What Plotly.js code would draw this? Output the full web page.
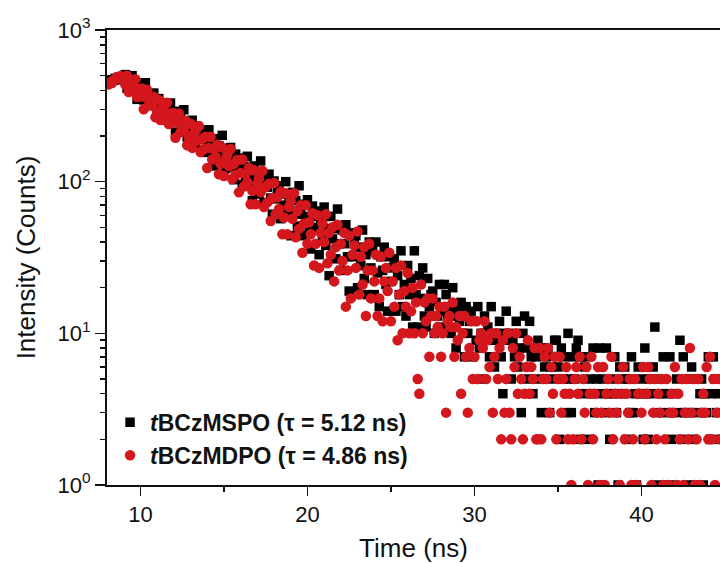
<!DOCTYPE html>
<html>
<head>
<meta charset="utf-8">
<script src="https://cdn.plot.ly/plotly-3.0.1.min.js"></script>
<style>html,body{margin:0;padding:0;background:#fff;}#chart{width:720px;height:563px;}</style>
</head>
<body>
<div id="chart"></div>
<script>
// Time channels (ns)
var time = [
8.1,8.2,8.3,8.4,8.5,8.6,8.7,8.8,8.9,9.0,
9.1,9.2,9.3,9.4,9.5,9.6,9.7,9.8,9.9,10.0,
10.1,10.2,10.3,10.4,10.5,10.6,10.7,10.8,10.9,11.0,
11.1,11.2,11.3,11.4,11.5,11.6,11.7,11.8,11.9,12.0,
12.1,12.2,12.3,12.4,12.5,12.6,12.7,12.8,12.9,13.0,
13.1,13.2,13.3,13.4,13.5,13.6,13.7,13.8,13.9,14.0,
14.1,14.2,14.3,14.4,14.5,14.6,14.7,14.8,14.9,15.0,
15.1,15.2,15.3,15.4,15.5,15.6,15.7,15.8,15.9,16.0,
16.1,16.2,16.3,16.4,16.5,16.6,16.7,16.8,16.9,17.0,
17.1,17.2,17.3,17.4,17.5,17.6,17.7,17.8,17.9,18.0,
18.1,18.2,18.3,18.4,18.5,18.6,18.7,18.8,18.9,19.0,
19.1,19.2,19.3,19.4,19.5,19.6,19.7,19.8,19.9,20.0,
20.1,20.2,20.3,20.4,20.5,20.6,20.7,20.8,20.9,21.0,
21.1,21.2,21.3,21.4,21.5,21.6,21.7,21.8,21.9,22.0,
22.1,22.2,22.3,22.4,22.5,22.6,22.7,22.8,22.9,23.0,
23.1,23.2,23.3,23.4,23.5,23.6,23.7,23.8,23.9,24.0,
24.1,24.2,24.3,24.4,24.5,24.6,24.7,24.8,24.9,25.0,
25.1,25.2,25.3,25.4,25.5,25.6,25.7,25.8,25.9,26.0,
26.1,26.2,26.3,26.4,26.5,26.6,26.7,26.8,26.9,27.0,
27.1,27.2,27.3,27.4,27.5,27.6,27.7,27.8,27.9,28.0,
28.1,28.2,28.3,28.4,28.5,28.6,28.7,28.8,28.9,29.0,
29.1,29.2,29.3,29.4,29.5,29.6,29.7,29.8,29.9,30.0,
30.1,30.2,30.3,30.4,30.5,30.6,30.7,30.8,30.9,31.0,
31.1,31.2,31.3,31.4,31.5,31.6,31.7,31.8,31.9,32.0,
32.1,32.2,32.3,32.4,32.5,32.6,32.7,32.8,32.9,33.0,
33.1,33.2,33.3,33.4,33.5,33.6,33.7,33.8,33.9,34.0,
34.1,34.2,34.3,34.4,34.5,34.6,34.7,34.8,34.9,35.0,
35.1,35.2,35.3,35.4,35.5,35.6,35.7,35.8,35.9,36.0,
36.1,36.2,36.3,36.4,36.5,36.6,36.7,36.8,36.9,37.0,
37.1,37.2,37.3,37.4,37.5,37.6,37.7,37.8,37.9,38.0,
38.1,38.2,38.3,38.4,38.5,38.6,38.7,38.8,38.9,39.0,
39.1,39.2,39.3,39.4,39.5,39.6,39.7,39.8,39.9,40.0,
40.1,40.2,40.3,40.4,40.5,40.6,40.7,40.8,40.9,41.0,
41.1,41.2,41.3,41.4,41.5,41.6,41.7,41.8,41.9,42.0,
42.1,42.2,42.3,42.4,42.5,42.6,42.7,42.8,42.9,43.0,
43.1,43.2,43.3,43.4,43.5,43.6,43.7,43.8,43.9,44.0,
44.1,44.2,44.3,44.4,44.5,44.6,44.7
];

// tBCzMSPO counts
var countsMSPO = [
462,455,471,466,480,474,488,479,470,485,
508,413,468,431,500,400,425,349,445,389,
410,346,449,364,319,376,347,384,316,277,
353,305,323,331,255,301,272,330,251,274,
212,291,248,265,217,298,231,197,244,222,
254,200,170,232,194,210,216,156,195,173,
220,158,175,127,192,157,172,135,202,149,
122,159,142,168,125,103,152,123,137,143,
96,126,110,147,99,113,75,127,101,113,
83,137,95,73,106,92,112,78,61,101,
77,90,94,57,83,70,100,61,74,44,
85,64,75,51,94,61,44,71,59,76,
49,36,69,50,59,64,33,54,43,68,
38,49,24,59,42,49,31,66,39,26,
48,39,52,32,19,46,32,39,44,20,
37,28,48,23,33,18,40,27,35,18,
40,25,15,32,26,37,21,14,32,22,
27,31,14,24,18,35,15,21,13,28,
18,23,11,35,18,11,24,17,27,13,
11,23,15,18,19,10,16,13,21,11,
14,21,18,13,15,10,20,13,8,14,
12,16,10,7,15,10,12,14,7,12,
9,15,8,10,5,13,9,11,7,15,
9,6,10,9,12,7,4,10,14,9,
10,5,9,7,12,6,8,3,10,13,
8,5,12,7,4,8,7,9,5,3,
8,6,7,8,3,6,5,9,9,6,
2,8,5,7,3,10,5,3,7,5,
8,9,2,7,4,6,7,2,5,4,
8,3,5,1,8,4,5,3,8,4,
2,5,4,7,3,1,6,4,5,6,
2,5,3,7,3,4,1,6,4,5,
2,8,4,2,5,4,6,11,1,5,
3,4,7,1,4,3,7,2,4,1,
5,3,9,2,7,3,1,5,3,6,
2,1,5,3,4,5,1,4,3,7,
2,4,7,5,3,4,2
];

// tBCzMDPO counts
var countsMDPO = [
438,452,447,468,476,489,481,497,486,478,
437,500,390,443,455,410,473,361,409,365,
411,300,362,403,318,353,324,363,266,292,
346,255,301,313,277,332,240,281,245,284,
195,246,281,212,241,217,252,174,195,241,
167,207,217,187,233,157,191,164,198,123,
167,198,140,165,146,175,112,131,168,109,
140,150,127,164,104,131,111,139,85,114,
140,93,113,99,123,71,87,119,71,97,
105,85,118,68,92,73,97,55,78,98,
61,79,66,86,45,58,84,45,68,75,
57,84,43,64,49,70,34,53,70,39,
54,45,62,28,39,60,27,46,53,40,
61,29,46,33,50,22,37,52,26,39,
30,46,15,26,44,17,33,38,27,47,
18,32,21,37,13,26,39,17,26,22,
33,13,17,32,12,22,27,19,34,12,
22,15,27,9,18,28,10,19,15,25,
10,14,20,10,16,5,4,21,10,16,
12,17,7,13,17,10,13,11,15,7,
10,15,3,12,13,11,16,7,11,9,
13,4,10,13,7,3,8,12,5,7,
12,5,9,10,8,12,5,9,6,10,
3,7,10,5,8,2,9,3,5,10,
3,2,8,6,10,4,7,5,2,4,
6,9,4,6,5,8,2,2,8,2,
5,7,5,8,3,6,4,7,2,5,
7,3,5,4,6,2,4,1,2,5,
6,4,7,2,5,3,6,1,4,7,
2,4,3,6,1,3,6,1,4,5,
3,7,2,4,3,5,1,4,6,2,
4,3,5,1,2,5,1,4,4,3,
6,2,4,6,5,1,3,5,2,4,
3,5,1,2,5,1,3,4,3,6,
1,4,2,5,1,3,5,2,8,3,
5,1,2,5,1,3,4,3,6,2,
7,2,5,1,3,5,2
];

var seriesNames = ['<b><i>t</i>BCzMSPO (\u03c4 = 5.12 ns)</b>', '<b><i>t</i>BCzMDPO (\u03c4 = 4.86 ns)</b>'];
var xTickVals = [10, 20, 30, 40];
var yTickVals = [1, 10, 100, 1000];
var yTickText = ['10<sup>0</sup>', '10<sup>1</sup>', '10<sup>2</sup>', '10<sup>3</sup>'];
var yMinorVals = [2,3,4,5,6,7,8,9,20,30,40,50,60,70,80,90,200,300,400,500,600,700,800,900];

var FONT = 'Liberation Sans, Arial, Helvetica, sans-serif';

var traces = [
  {x: time, y: countsMSPO, type: 'scatter', mode: 'markers', name: seriesNames[0],
   marker: {symbol: 'square', size: 9.5, color: '#000000', line: {width: 0}}},
  {x: time, y: countsMDPO, type: 'scatter', mode: 'markers', name: seriesNames[1],
   marker: {symbol: 'circle', size: 10.5, color: '#d4161d', line: {width: 0}}}
];

var layout = {
  width: 720, height: 563,
  margin: {l: 107, r: 0, t: 30, b: 78},
  paper_bgcolor: '#ffffff', plot_bgcolor: '#ffffff',
  font: {family: FONT, color: '#111111'},
  showlegend: true,
  legend: {x: 0.005, xanchor: 'left', y: 0.185, yanchor: 'top',
           bgcolor: 'rgba(0,0,0,0)', borderwidth: 0,
           font: {family: FONT, size: 23, color: '#111111'}},
  xaxis: {
    range: [8, 44.7], tickvals: xTickVals, ticks: 'outside', ticklen: 9, tickwidth: 1.6,
    tickcolor: '#111', showline: true, linewidth: 2, linecolor: '#111', mirror: true,
    showgrid: false, zeroline: false,
    tickfont: {family: FONT, size: 22, color: '#111'},
    minor: {dtick: 5, tick0: 0, ticks: 'outside', ticklen: 5, tickwidth: 1.6, tickcolor: '#111', showgrid: false},
    title: {text: 'Time (ns)', font: {family: FONT, size: 26, color: '#111'}, standoff: 12}
  },
  yaxis: {
    type: 'log', range: [0, 3], tickvals: yTickVals, ticktext: yTickText,
    ticks: 'outside', ticklen: 10, tickwidth: 1.6, tickcolor: '#111',
    showline: true, linewidth: 2, linecolor: '#111', mirror: false,
    showgrid: false, zeroline: false,
    tickfont: {family: FONT, size: 22, color: '#111'},
    minor: {tickvals: yMinorVals, ticks: 'outside', ticklen: 5, tickwidth: 1.6, tickcolor: '#111', showgrid: false},
    title: {text: 'Intensity (Counts)', font: {family: FONT, size: 26, color: '#111'}, standoff: 14}
  }
};

Plotly.newPlot('chart', traces, layout, {displayModeBar: false, staticPlot: true});
</script>
</body>
</html>
